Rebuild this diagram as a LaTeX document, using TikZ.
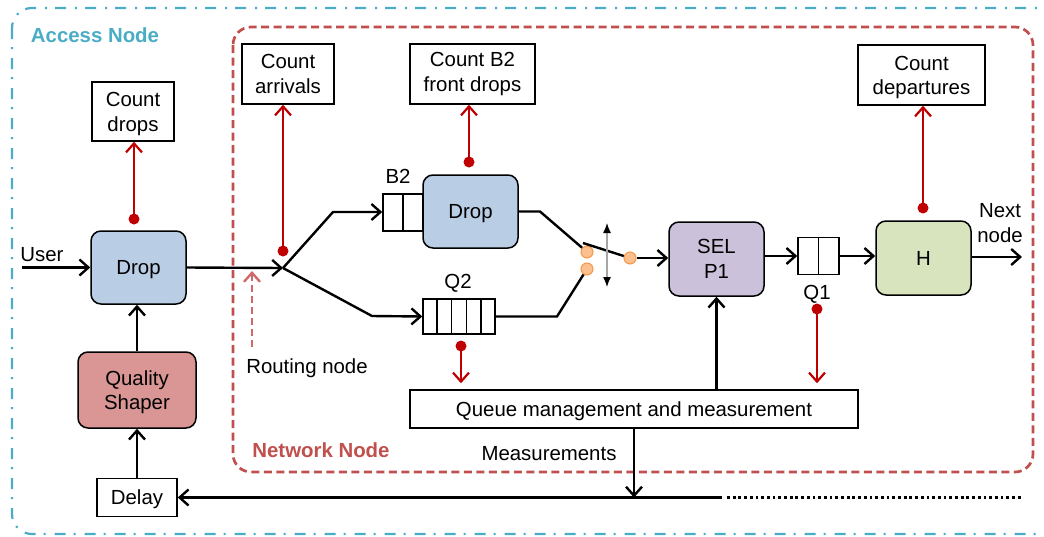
\documentclass[tikz,border=0pt]{standalone}
\usepackage{fontspec}
\setmainfont{Liberation Sans}
\usetikzlibrary{arrows.meta,calc}
\definecolor{accesscyan}{HTML}{4BACC6}
\definecolor{netred}{HTML}{C0504D}
\definecolor{probered}{HTML}{C00000}
\definecolor{dropblue}{HTML}{B9CDE5}
\definecolor{shaperred}{HTML}{D99694}
\definecolor{selpurple}{HTML}{CCC1DA}
\definecolor{hgreen}{HTML}{D7E4BD}
\definecolor{switchfill}{HTML}{FAC090}
\definecolor{switchline}{HTML}{F79646}
\definecolor{routered}{HTML}{D06A6A}
% tall invisible strut: sets box text a little lower, centred on the line box
\newcommand{\boxstrut}{\rule{0pt}{19pt}}
\begin{document}
\begin{tikzpicture}[x=1pt,y=-1pt,
  every node/.style={font=\fontsize{20.4}{24.5}\selectfont, inner sep=0pt, align=center},
  box/.style={draw, line width=1.5pt, fill=white},
  proc/.style={draw, line width=1.5pt, rounded corners=10pt},
  qcell/.style={draw, line width=1.5pt, fill=white},
  flow/.style={line width=2.4pt, -{Straight Barb[length=9pt,width=16pt]}},
  plain/.style={line width=2.4pt},
  probe/.style={probered, line width=2.2pt, -{Straight Barb[length=9pt,width=16pt]}},
  pdot/.style={circle, fill=probered, minimum size=11pt},
  contact/.style={circle, draw=switchline, fill=switchfill, line width=1pt, minimum size=12pt},
  title/.style={font=\fontsize{20.4}{24.5}\selectfont\bfseries}
]
\useasboundingbox (0,0) rectangle (1044,536);

% node outlines
\begin{scope}
  \clip (0,0) rectangle (1044,536);
  \draw[accesscyan, line width=2.2pt, dash pattern=on 11pt off 8pt on 2pt off 9pt,
        rounded corners=20pt] (12,8) rectangle (1066,534);
\end{scope}
\draw[netred, line width=2.7pt, dash pattern=on 8pt off 4.5pt, rounded corners=18pt]
  (233,27) rectangle (1033,472);
\node[title, text=accesscyan] (accesslbl) at (95,35) {Access Node};
\node[title, text=netred] (netlbl) at (321,450) {Network Node};

% counters
\node[box, minimum width=82pt, minimum height=59pt] (cdrops) at (133,111.5) {\boxstrut Count\\drops};
\node[box, minimum width=92pt, minimum height=60pt] (carr) at (288,74) {Count\\arrivals};
\node[box, minimum width=125pt, minimum height=60pt] (cb2) at (472.5,74) {Count B2\\front drops};
\node[box, minimum width=127pt, minimum height=60pt] (cdep) at (921.5,75) {\boxstrut Count\\departures};

% access node blocks
\node[proc, fill=dropblue, minimum width=95pt, minimum height=73pt] (drop1) at (138.5,267.5) {\boxstrut Drop};
\node[proc, fill=shaperred, minimum width=118pt, minimum height=76pt] (shaper) at (137,390) {\boxstrut Quality\\Shaper};
\node[box, minimum width=80pt, minimum height=38pt] (delay) at (137,497.5) {\boxstrut Delay};

% queues
\node[qcell, minimum width=40pt, minimum height=37pt] (b2q) at (403,212.5) {};
\draw[line width=1.5pt] (b2q.north) -- (b2q.south);
\node[proc, fill=dropblue, minimum width=95pt, minimum height=73pt] (drop2) at (470.5,211.5) {\boxstrut Drop};
\node (b2lbl) at (398,176) {B2};

\node[qcell, minimum width=72pt, minimum height=35pt] (q2) at (459,316.5) {};
\foreach \f in {0.2,0.4,0.6,0.8}
  \draw[line width=1.5pt] ($(q2.north west)!\f!(q2.north east)$) -- ($(q2.south west)!\f!(q2.south east)$);
\node (q2lbl) at (458,283) {Q2};

\node[qcell, minimum width=41pt, minimum height=37pt] (q1) at (818.5,256) {};
\draw[line width=1.5pt] (q1.north) -- (q1.south);
\node (q1lbl) at (817,294) {Q1};

% scheduler and output
\node[proc, fill=selpurple, minimum width=95pt, minimum height=74pt] (sel) at (716.5,259) {SEL\\P1};
\node[proc, fill=hgreen, minimum width=95pt, minimum height=74pt] (h) at (923.5,258) {H};
\node[box, minimum width=448pt, minimum height=38pt] (qm) at (634,409) {\boxstrut Queue management and measurement};

% plain labels
\node (userlbl) at (42,255) {User};
\node (nextlbl) at (1000,223) {Next\\node};
\node (routelbl) at (307,368) {Routing node};
\node (measlbl) at (549,454) {Measurements};

% routing
\coordinate (userin) at (22,267.5);
\coordinate (route) at (283,268);
\draw[flow] (userin) -- (drop1.west);
\draw[flow] (drop1.east) -- (route);
\draw[flow] (route) -- (333,212) -- (b2q.west |- 0,212);
\draw[flow] (route) -- (372,316) -- (q2.west);

% switch
\node[contact] (swa) at (587,252) {};
\node[contact] (swb) at (587,269) {};
\node[contact] (swc) at (630,258) {};
\coordinate (lever) at (583,243);
\draw[plain] (drop2.east) -- (540,211.5) -- (swa);
\draw[plain] (q2.east) -- (557,316.5) -- (swb);
\draw[plain] (lever) -- (swc);
\draw[flow] (swc) -- (sel.west |- swc);
\coordinate (tgtop) at (607,223);
\coordinate (tgbot) at (607,287);
\draw[black!35, line width=1.3pt, {Latex[black,length=10pt,width=8pt]}-{Latex[black,length=10pt,width=8pt]}] (tgtop) -- (tgbot);

% to the next node
\coordinate (nextend) at (1022,257);
\draw[flow] (sel.east |- q1.west) -- (q1.west);
\draw[flow] (q1.east) -- (h.west |- q1.east);
\draw[flow] (h.east |- nextend) -- (nextend);

% measurement feedback
\coordinate (measjoin) at (634,497.5);
\coordinate (fbend) at (722,497.5);
\coordinate (dotstart) at (727,497.5);
\coordinate (dotend) at (1023,497.5);
\draw[flow] (qm.north -| sel.south) -- (sel.south);
\draw[flow] (qm.south) -- (measjoin);
\draw[flow] (fbend) -- (delay.east);
\draw[line width=2.8pt, dash pattern=on 2.8pt off 2.9pt] (dotstart) -- (dotend);
\draw[flow] (delay.north) -- (shaper.south);
\draw[flow] (shaper.north) -- (shaper.north |- drop1.south);

% probes
\node[pdot] (pdrops) at (134,219) {};
\node[pdot] (parr) at (283,251) {};
\node[pdot] (pb2) at (469,162) {};
\node[pdot] (pdep) at (923,208) {};
\node[pdot] (pq2) at (461,346) {};
\node[pdot] (pq1) at (817,309) {};
\draw[probe] (pdrops.center) -- (pdrops |- cdrops.south);
\draw[probe] (parr.center) -- (parr |- carr.south);
\draw[probe] (pb2.center) -- (pb2 |- cb2.south);
\draw[probe] (pdep.center) -- (pdep |- cdep.south);
\draw[probe, shorten >=6pt] (pq2.center) -- (pq2 |- qm.north);
\draw[probe, shorten >=6pt] (pq1.center) -- (pq1 |- qm.north);

% routing node pointer
\coordinate (rtail) at (252,347);
\coordinate (rtip) at (252,271);
\draw[routered, line width=2.4pt, dash pattern=on 7pt off 4pt, -{Straight Barb[length=9pt,width=16pt]}] (rtail) -- (rtip);
\end{tikzpicture}
\end{document}
